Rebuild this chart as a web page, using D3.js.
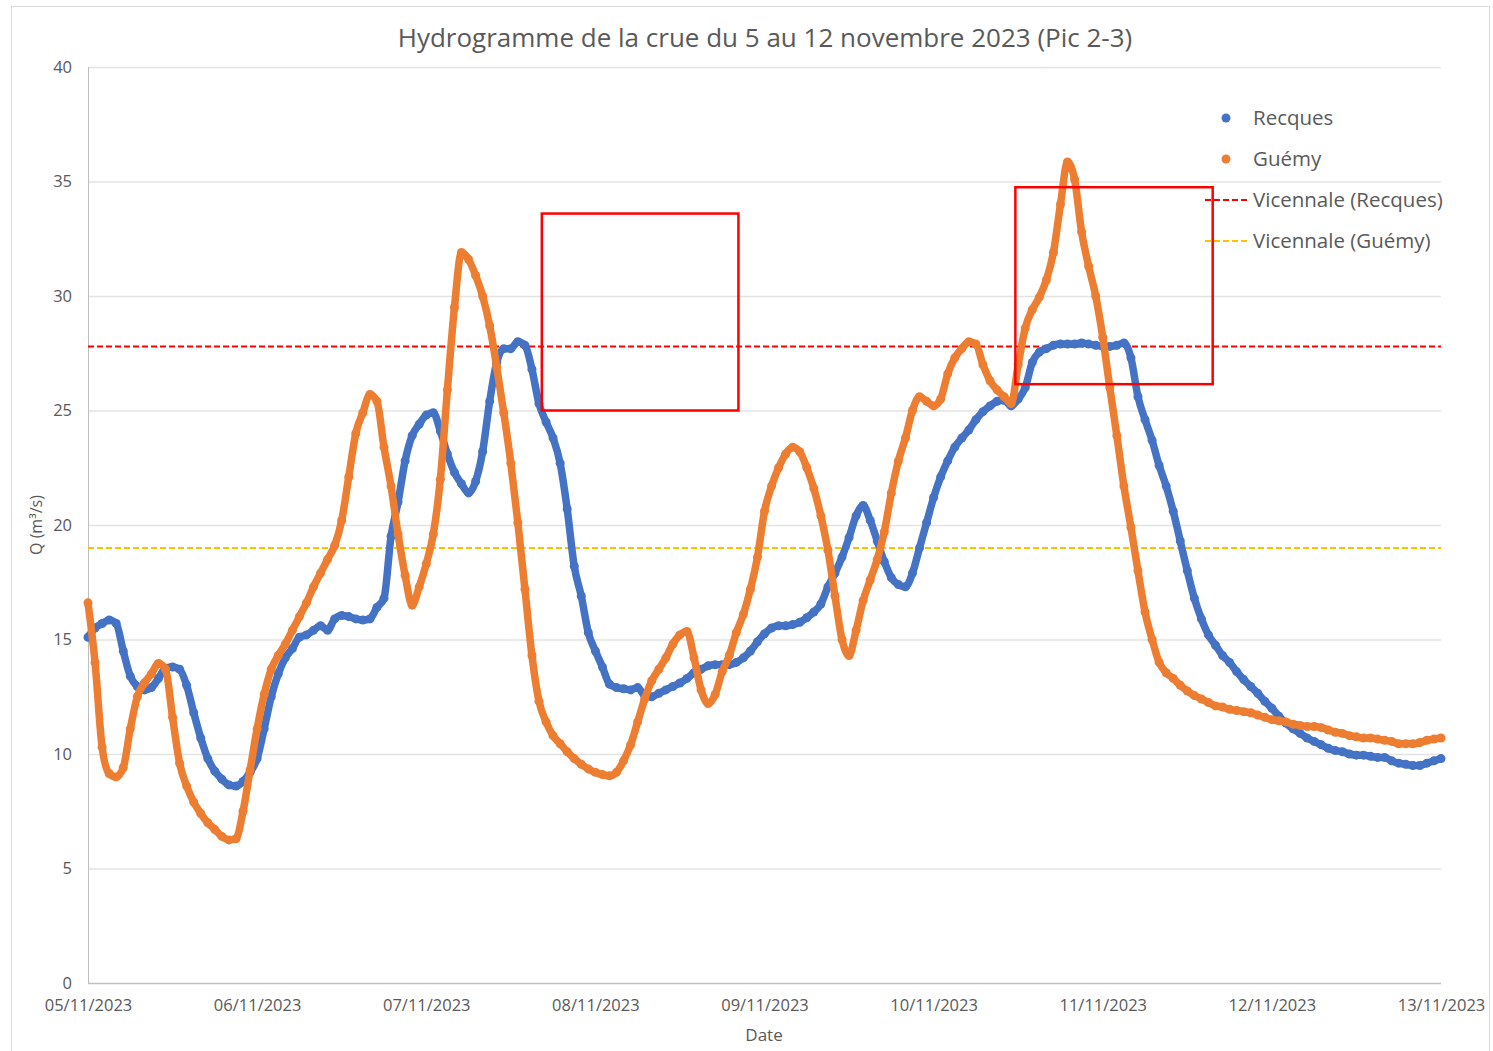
<!DOCTYPE html>
<html>
<head>
<meta charset="utf-8">
<script src="https://cdn.jsdelivr.net/npm/d3@7"></script>
<style>
  body { margin: 0; background: #fff; }
  text { font-family: "Open Sans", sans-serif; fill: #595959; }
</style>
</head>
<body>
<div id="chart"></div>
<script>
// Chart texts
var chartTitle = "Hydrogramme de la crue du 5 au 12 novembre 2023 (Pic 2-3)";
var xTitle = "Date";
var yTitle = "Q (m³/s)";

// Hourly series, starting 05/11/2023 00:00
var startDate = new Date(2023, 10, 5);
var endDate = new Date(2023, 10, 13);
var yTicks = [0, 5, 10, 15, 20, 25, 30, 35, 40];

var recques = [
  15.1, 15.5, 15.7, 15.85, 15.7, 14.5, 13.4, 12.95, 12.8, 12.9, 13.3, 13.75,
  13.8, 13.7, 13.0, 11.8, 10.7, 9.8, 9.25, 8.9, 8.65, 8.6, 8.8, 9.2,
  9.8, 11.1, 12.5, 13.5, 14.2, 14.6, 15.1, 15.2, 15.4, 15.6, 15.4, 15.9,
  16.05, 16.0, 15.9, 15.85, 15.9, 16.4, 16.8, 19.5, 21.0, 22.8, 23.9, 24.4,
  24.8, 24.9, 24.1, 23.1, 22.3, 21.8, 21.4, 21.9, 23.2, 25.4, 27.1, 27.7,
  27.7, 28.0, 27.85, 26.8, 25.3, 24.5, 23.8, 22.7, 20.7, 18.2, 16.9, 15.3,
  14.5, 13.8, 13.05, 12.9, 12.85, 12.8, 12.9, 12.55, 12.5, 12.65, 12.8, 12.95,
  13.1, 13.3, 13.55, 13.7, 13.85, 13.9, 13.9, 13.9, 14.0, 14.2, 14.5, 14.9,
  15.25, 15.5, 15.6, 15.6, 15.65, 15.75, 15.95, 16.2, 16.55, 17.3, 17.9, 18.6,
  19.45, 20.4, 20.85, 20.2, 19.3, 18.4, 17.7, 17.4, 17.3, 17.9, 19.0, 20.1,
  21.2, 22.1, 22.8, 23.4, 23.8, 24.15, 24.6, 24.95, 25.2, 25.4, 25.45, 25.2,
  25.5, 26.0, 27.1, 27.55, 27.7, 27.85, 27.9, 27.9, 27.9, 27.95, 27.9, 27.85,
  27.8, 27.8, 27.85, 27.95, 27.3, 25.6, 24.6, 23.7, 22.6, 21.7, 20.6, 19.3,
  18.0, 16.8, 15.9, 15.2, 14.75, 14.3, 14.0, 13.6, 13.25, 12.95, 12.65, 12.3,
  12.0, 11.65, 11.35, 11.1, 10.9, 10.7, 10.55, 10.4, 10.25, 10.15, 10.1, 10.0,
  9.95, 9.95, 9.9, 9.85, 9.85, 9.7, 9.6, 9.55, 9.5, 9.5, 9.6, 9.7,
  9.8
];

var guemy = [
  16.6, 14.0, 10.3, 9.15, 9.0, 9.4, 11.1, 12.5, 13.1, 13.5, 13.95, 13.7,
  11.6, 9.6, 8.6, 7.9, 7.4, 7.0, 6.7, 6.4, 6.25, 6.3, 7.5, 9.3,
  11.1, 12.6, 13.7, 14.3, 14.8, 15.4, 16.0, 16.6, 17.3, 17.9, 18.5, 19.1,
  20.2, 22.1, 24.0, 24.9, 25.7, 25.4, 23.4, 21.7, 19.6, 17.8, 16.5, 17.3,
  18.3, 19.6, 22.0, 25.9, 29.5, 31.9, 31.6, 30.9, 30.0, 28.7, 26.9, 24.9,
  22.7, 20.1, 17.2, 14.3, 12.3, 11.4, 10.8, 10.45, 10.1, 9.8, 9.55, 9.35,
  9.2, 9.1, 9.05, 9.2, 9.7, 10.4, 11.4, 12.4, 13.2, 13.7, 14.2, 14.8,
  15.2, 15.35, 14.2, 12.8, 12.2, 12.6, 13.6, 14.3, 15.3, 16.1, 17.2, 18.6,
  20.6, 21.7, 22.5, 23.1, 23.4, 23.2, 22.5, 21.6, 20.4, 18.9, 16.9, 15.0,
  14.3, 15.4, 16.7, 17.6, 18.5, 19.7, 21.4, 22.8, 23.8, 25.0, 25.6, 25.4,
  25.2, 25.5, 26.6, 27.3, 27.7, 28.0, 27.9, 27.0, 26.3, 25.9, 25.6, 25.3,
  27.0, 28.6, 29.4, 29.95, 30.7, 31.9, 34.0, 35.85, 35.1, 32.8, 31.3, 30.0,
  28.2, 26.0, 23.9, 21.7, 19.9, 18.0, 16.2, 15.0, 14.0, 13.55, 13.3, 13.0,
  12.75, 12.55, 12.4, 12.25, 12.1, 12.05, 11.95, 11.9, 11.85, 11.8, 11.7, 11.6,
  11.5, 11.45, 11.4, 11.3, 11.25, 11.2, 11.2, 11.15, 11.05, 10.95, 10.9, 10.8,
  10.75, 10.7, 10.7, 10.65, 10.6, 10.55, 10.45, 10.45, 10.45, 10.5, 10.6, 10.65,
  10.7
];

var seriesNames = ["Recques", "Guémy"];
var seriesColors = ["#4472C4", "#ED7D31"];

// Vicennale flows (horizontal dashed lines)
var thresholdNames = ["Vicennale (Recques)", "Vicennale (Guémy)"];
var thresholdValues = [27.8, 19.0];
var thresholdColors = ["#FF0000", "#FFC000"];

// Red highlight boxes: [start hour, end hour] and [low Q, high Q]
var boxHours = [[64.4, 92.3], [131.6, 159.6]];
var boxQ = [[25.0, 33.6], [26.15, 34.75]];

// Dimensions
var width = 1493;
var height = 1051;
var margin = {top: 67, right: 52, bottom: 68, left: 88};
var plotW = width - margin.left - margin.right;
var plotH = height - margin.top - margin.bottom;

var svg = d3.select("#chart").append("svg")
    .attr("width", width)
    .attr("height", height);

// outer chart border
svg.append("rect")
    .attr("x", 11.5).attr("y", 6.5)
    .attr("width", 1478).attr("height", 1052)
    .attr("fill", "none")
    .attr("stroke", "#d9d9d9");

var g = svg.append("g")
    .attr("transform", "translate(" + margin.left + "," + margin.top + ")");

var x = d3.scaleTime()
    .domain([startDate, endDate])
    .range([0, plotW]);

var y = d3.scaleLinear()
    .domain([0, 40])
    .range([plotH, 0]);

function hourDate(h) { return new Date(startDate.getTime() + h * 3600 * 1000); }

// gridlines
g.append("g")
    .selectAll("line")
    .data(yTicks)
    .enter().append("line")
      .attr("x1", 0).attr("x2", plotW)
      .attr("y1", function(d) { return y(d) + 0.5; })
      .attr("y2", function(d) { return y(d) + 0.5; })
      .attr("stroke", function(d) { return d === 0 ? "#bfbfbf" : "#e3e3e3"; })
      .attr("stroke-width", 1.3);

// left axis line
g.append("line")
    .attr("x1", 0.5).attr("x2", 0.5)
    .attr("y1", 0).attr("y2", plotH)
    .attr("stroke", "#bfbfbf");

// y axis labels
var yAxis = g.append("g")
    .call(d3.axisLeft(y).tickValues(yTicks).tickSize(0).tickPadding(16));
yAxis.select(".domain").remove();
yAxis.selectAll("text")
    .style("font-size", "16.5px")
    .style("font-family", "'Open Sans', sans-serif")
    .attr("fill", "#595959");

// x axis labels
var xAxis = g.append("g")
    .attr("transform", "translate(0," + plotH + ")")
    .call(d3.axisBottom(x).ticks(d3.timeDay.every(1)).tickFormat(d3.timeFormat("%d/%m/%Y")).tickSize(0).tickPadding(16));
xAxis.select(".domain").remove();
xAxis.selectAll("text")
    .style("font-size", "16.5px")
    .style("font-family", "'Open Sans', sans-serif")
    .attr("fill", "#595959");

// threshold lines
thresholdValues.forEach(function(v, i) {
    g.append("line")
        .attr("x1", 0).attr("x2", plotW)
        .attr("y1", y(v)).attr("y2", y(v))
        .attr("stroke", thresholdColors[i])
        .attr("stroke-width", 2)
        .attr("stroke-dasharray", "6,3");
});

// series
var allSeries = [recques, guemy];
allSeries.forEach(function(values, i) {
    var pts = values.map(function(v, h) { return {t: hourDate(h), q: v}; });

    g.append("path")
        .datum(pts)
        .attr("fill", "none")
        .attr("stroke", seriesColors[i])
        .attr("stroke-width", 7.5)
        .attr("stroke-linejoin", "round")
        .attr("stroke-linecap", "round")
        .attr("d", d3.line()
            .curve(d3.curveMonotoneX)
            .x(function(d) { return x(d.t); })
            .y(function(d) { return y(d.q); }));

    g.append("g")
        .selectAll("circle")
        .data(pts)
        .enter().append("circle")
          .attr("cx", function(d) { return x(d.t); })
          .attr("cy", function(d) { return y(d.q); })
          .attr("r", 4.5)
          .attr("fill", seriesColors[i]);
});

// red boxes
boxHours.forEach(function(b, i) {
    g.append("rect")
        .attr("x", x(hourDate(b[0])))
        .attr("y", y(boxQ[i][1]))
        .attr("width", x(hourDate(b[1])) - x(hourDate(b[0])))
        .attr("height", y(boxQ[i][0]) - y(boxQ[i][1]))
        .attr("fill", "none")
        .attr("stroke", "#FF0000")
        .attr("stroke-width", 2.5);
});

// title
svg.append("text")
    .attr("x", 765).attr("y", 47)
    .attr("text-anchor", "middle")
    .style("font-size", "26px")
    .text(chartTitle);

// axis titles
svg.append("text")
    .attr("x", 764).attr("y", 1041)
    .attr("text-anchor", "middle")
    .style("font-size", "17px")
    .text(xTitle);

svg.append("text")
    .attr("transform", "translate(42,525) rotate(-90)")
    .attr("text-anchor", "middle")
    .style("font-size", "16px")
    .text(yTitle);

// legend
var legend = svg.append("g")
    .attr("transform", "translate(1205,118)");

seriesNames.forEach(function(name, i) {
    var ly = i * 41;
    legend.append("circle")
        .attr("cx", 21).attr("cy", ly)
        .attr("r", 4.5)
        .attr("fill", seriesColors[i]);
    legend.append("text")
        .attr("x", 48).attr("y", ly + 7)
        .style("font-size", "20.5px")
        .text(name);
});

thresholdNames.forEach(function(name, i) {
    var ly = (i + 2) * 41;
    legend.append("line")
        .attr("x1", 0).attr("x2", 45)
        .attr("y1", ly).attr("y2", ly)
        .attr("stroke", thresholdColors[i])
        .attr("stroke-width", 2)
        .attr("stroke-dasharray", "6,3");
    legend.append("text")
        .attr("x", 48).attr("y", ly + 7)
        .style("font-size", "20.5px")
        .text(name);
});
</script>
</body>
</html>
